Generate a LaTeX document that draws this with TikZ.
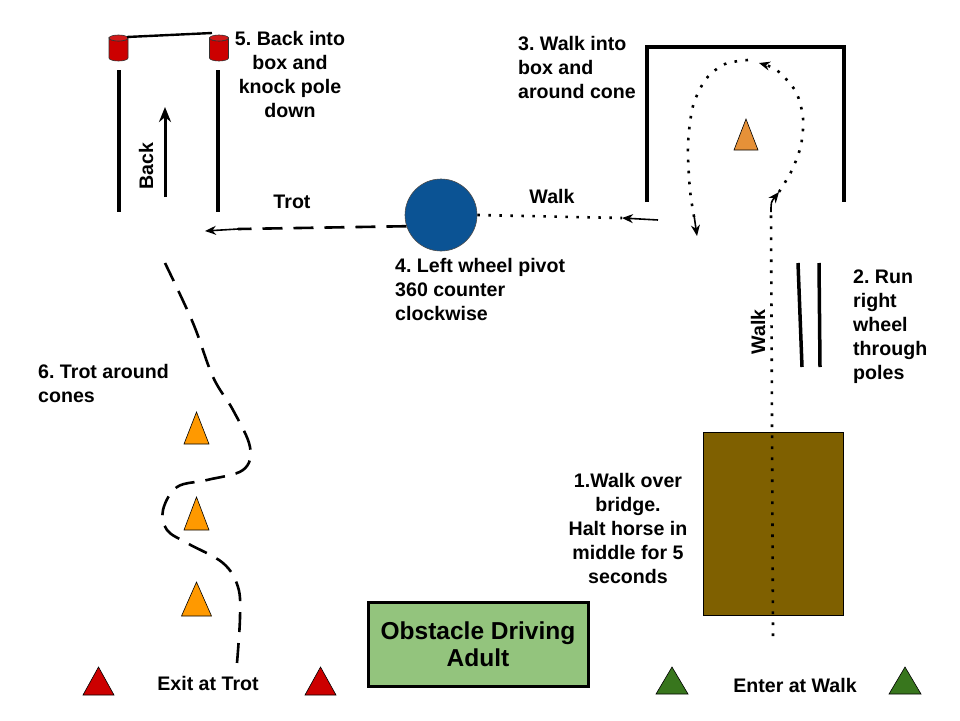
\documentclass[tikz,border=0pt]{standalone}
\usepackage{fontspec}
\setmainfont{Liberation Sans}
\usepackage{xcolor}
\usepackage{tikz}
\usetikzlibrary{shapes.geometric, arrows.meta, positioning}
\definecolor{barrelred}{RGB}{204, 0, 0}
\definecolor{pivotblue}{RGB}{11, 83, 148}
\definecolor{coneorange}{RGB}{255, 153, 0}
\definecolor{boxcone}{RGB}{230, 145, 56}
\definecolor{bridgebrown}{RGB}{127, 96, 0}
\definecolor{titlegreen}{RGB}{147, 196, 125}
\definecolor{markgreen}{RGB}{56, 118, 29}
\frenchspacing

\begin{document}
\begin{tikzpicture}[x=1pt, y=-1pt,
  lbl/.style={font=\fontsize{19.6pt}{24pt}\selectfont\bfseries, inner sep=0pt},
  wall/.style={line width=3.5pt},
  tip/.style={-{Stealth[length=11pt, width=9pt]}, line width=1.6pt},
  dotline/.style={line width=2.6pt, dash pattern=on 2.6pt off 8.4pt},
  dashline/.style={line width=2.6pt, dash pattern=on 20pt off 11pt},
  pics/barrel/.style={code={
    \filldraw[fill=barrelred, draw=black!80, line width=0.6pt]
      (-9.5,-10) -- (-9.5,10) arc[start angle=180, end angle=0, x radius=9.5, y radius=3]
      -- (9.5,-10) arc[start angle=0, end angle=180, x radius=9.5, y radius=3] -- cycle;
    \filldraw[fill=barrelred!90!white, draw=black!80, line width=0.6pt]
      (0,-10) ellipse[x radius=9.5, y radius=3];}},
  pics/cone/.style n args={3}{code={
    \filldraw[fill=#1, draw=black, line width=0.6pt] (-#2,0) -- (#2,0) -- (0,-#3) -- cycle;}}
]
\useasboundingbox (0,0) rectangle (960,720);
% Back-in box with pole on barrels
\pic at (118.5,48) {barrel};
\pic at (219,48) {barrel};
\coordinate (poleL) at (127,37);
\coordinate (poleR) at (212,33);
\draw[line width=2.4pt] (poleL) -- (poleR);
\coordinate (lwallT) at (119,70);
\coordinate (lwallB) at (119,212);
\coordinate (rwallT) at (218,70);
\coordinate (rwallB) at (218,212);
\draw[wall] (lwallT) -- (lwallB);
\draw[wall] (rwallT) -- (rwallB);
\coordinate (backS) at (165,197);
\coordinate (backE) at (165,107);
\draw[-{Stealth[length=15pt, width=12pt]}, line width=3pt] (backS) -- (backE);
\node[lbl, rotate=90] at (146,166) (back) {Back};
\node[lbl, anchor=north, align=center] at (290,31.4) (step5)
  {5. Back into\\box and\\knock pole\\down};
% Walk-in box with cone
\coordinate (boxBL) at (647,202);
\coordinate (boxTL) at (647,47);
\coordinate (boxTR) at (844,47);
\coordinate (boxBR) at (844,202);
\draw[wall] (boxBL) -- (boxTL) -- (boxTR) -- (boxBR);
\pic at (746,150) {cone={boxcone}{12}{31}};
\node[lbl, anchor=north west, align=left] at (518,36.4) (step3)
  {3. Walk into\\box and\\around cone};
% Pivot
\node[circle, draw=black!70, line width=0.6pt, fill=pivotblue, minimum size=72pt, inner sep=0pt]
  at (441,215) (pivot) {};
\node[lbl, anchor=north west, align=left] at (395,258.4) (step4)
  {4. Left wheel pivot\\360 counter\\clockwise};
% Walk from box to pivot
\coordinate (walkA) at (622,218);
\coordinate (walkB) at (658,220);
\draw[dotline] (pivot.east) -- (walkA);
\draw[tip] (walkB) -- (walkA);
\node[lbl, anchor=base] at (552,203) (walk) {Walk};
% Trot from pivot to back-in box
\coordinate (trotA) at (205,231);
\coordinate (trotB) at (238,229);
\draw[dashline] (pivot.198) -- (trotB);
\draw[tip] (trotB) -- (trotA);
\node[lbl, anchor=base] at (292,208) (trot) {Trot};
% Poles
\coordinate (pole1T) at (798,263);
\coordinate (pole1B) at (802,367);
\coordinate (pole2T) at (819,263);
\coordinate (pole2B) at (820,367);
\draw[wall] (pole1T) -- (pole1B);
\draw[wall] (pole2T) -- (pole2B);
\node[lbl, anchor=north west, align=left] at (853,269.4) (step2)
  {2. Run\\right\\wheel\\through\\poles};
% Bridge
\node[rectangle, draw=black, line width=0.8pt, fill=bridgebrown, minimum width=140pt,
  minimum height=183pt, inner sep=0pt] at (773,523.5) (bridge) {};
\node[lbl, anchor=north, align=center] at (628,473.4) (step1)
  {1.Walk over\\bridge.\\Halt horse in\\middle for 5\\seconds};
% Walk route: enter, bridge, box loop
\coordinate (enter) at (773,636);
\coordinate (turn) at (771,212);
\coordinate (loopA) at (779,192);
\coordinate (loopB) at (759,63);
\coordinate (loopC) at (748,60);
\coordinate (loopD) at (697,236);
\draw[dotline] (enter) -- (turn);
\draw[tip] (turn) .. controls (771,202) .. (loopA);
\draw[dotline] plot[smooth] coordinates {(loopA) (792,170) (801,145) (803,118) (796,92) (779,72) (764,64)};
\draw[tip] (766,65) -- (loopB);
\draw[dotline] plot[smooth] coordinates {(loopC) (725,64) (706,79) (693,106) (688,145) (690,190) (695,222)};
\draw[tip] (694,215) -- (loopD);
\node[lbl, rotate=90] at (758,332) (walkv) {Walk};
% Trot around cones
\draw[dashline] plot[smooth, tension=0.6] coordinates {(165,263) (193,323) (213,377) (233,410)
  (250,447) (243,470) (207,480) (177,487) (163,510) (167,530) (187,543) (223,563) (238,587)
  (240,617) (237,663)};
\pic at (196.5,444) {cone={coneorange}{12.5}{32}};
\pic at (196.5,530) {cone={coneorange}{12.5}{33}};
\pic at (196.5,616) {cone={coneorange}{15}{34}};
\node[lbl, anchor=north west, align=left] at (38,364.4) (step6) {6. Trot around\\cones};
% Title
\node[rectangle, draw=black, line width=3pt, fill=titlegreen, minimum width=220pt,
  minimum height=84pt, align=center, font=\fontsize{24.5pt}{27pt}\selectfont\bfseries]
  at (478,644) (title) {Obstacle Driving\\Adult};
% Exit and entry markers
\pic at (98.5,695) {cone={barrelred}{15.5}{28}};
\pic at (320.5,695) {cone={barrelred}{15.5}{28}};
\node[lbl, anchor=base] at (208,690) (exit) {Exit at Trot};
\pic at (672,694) {cone={markgreen}{16}{27}};
\pic at (905,694) {cone={markgreen}{16}{27}};
\node[lbl, anchor=base] at (795,692) (entry) {Enter at Walk};
\end{tikzpicture}
\end{document}
